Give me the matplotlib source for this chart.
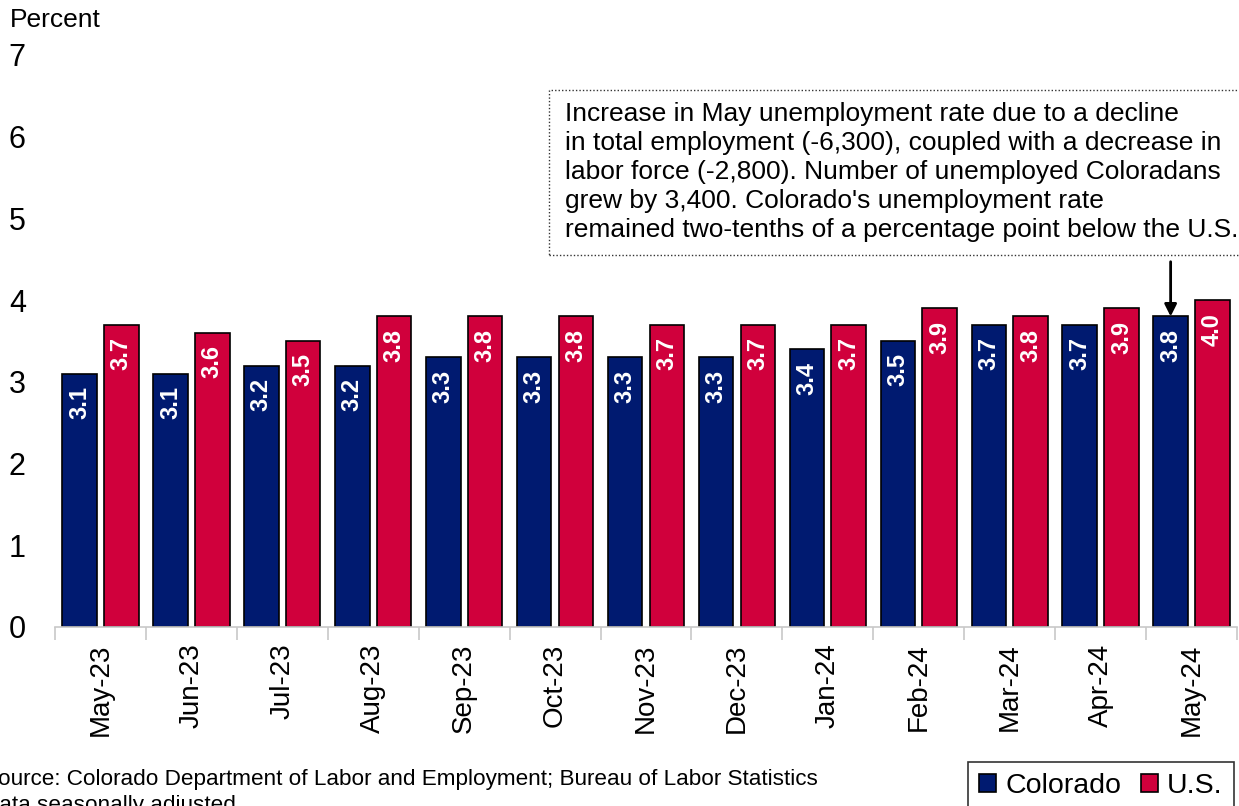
import numpy as np
import matplotlib.pyplot as plt
from matplotlib.patches import Rectangle

months = ['May-23', 'Jun-23', 'Jul-23', 'Aug-23', 'Sep-23', 'Oct-23', 'Nov-23',
          'Dec-23', 'Jan-24', 'Feb-24', 'Mar-24', 'Apr-24', 'May-24']
colorado = [3.1, 3.1, 3.2, 3.2, 3.3, 3.3, 3.3, 3.3, 3.4, 3.5, 3.7, 3.7, 3.8]
us = [3.7, 3.6, 3.5, 3.8, 3.8, 3.8, 3.7, 3.7, 3.7, 3.9, 3.8, 3.9, 4.0]

note = ("Increase in May unemployment rate due to a decline\n"
        "in total employment (-6,300), coupled with a decrease in\n"
        "labor force (-2,800). Number of unemployed Coloradans\n"
        "grew by 3,400. Colorado's unemployment rate\n"
        "remained two-tenths of a percentage point below the U.S.")

plt.rcParams['font.family'] = ['Liberation Sans', 'DejaVu Sans']

W, H = 1239, 806
fig = plt.figure(figsize=(W / 100, H / 100), dpi=100)
ax = fig.add_axes([55 / W, (H - 627) / H, (1237 - 55) / W, 572 / H])

blue = '#001a70'
red = '#d0003c'
x = np.arange(len(months))
off = 0.23
bw = 0.38
b1 = ax.bar(x - off, colorado, bw, color=blue, edgecolor='black', linewidth=1.2, label='Colorado')
b2 = ax.bar(x + off, us, bw, color=red, edgecolor='black', linewidth=1.2, label='U.S.')

# value labels inside the top of each bar
for xs, vals in ((x - off, colorado), (x + off, us)):
    for xi, v in zip(xs, vals):
        ax.annotate(f'{v:.1f}', (xi, v), xytext=(0, -9), textcoords='offset points',
                    rotation=90, ha='center', va='top', color='white',
                    fontsize=17, fontweight='bold')

ax.set_ylim(0, 7)
ax.set_xlim(-0.5, len(months) - 0.5)
ax.set_yticks(range(0, 8))
ax.tick_params(axis='y', length=0, labelsize=22, pad=21)
ax.set_xticks(x)
ax.set_xticklabels(months, rotation=90, fontsize=20)
ax.tick_params(axis='x', which='major', length=0, pad=12)
ax.set_xticks(np.arange(-0.5, len(months)), minor=True)
ax.tick_params(axis='x', which='minor', length=9, color='#c8c8c8', width=1.2)
for s in ('top', 'right', 'left'):
    ax.spines[s].set_visible(False)
ax.spines['bottom'].set_color('#c8c8c8')
ax.spines['bottom'].set_linewidth(1.2)

fig.text(10 / W, 1 - 20 / H, 'Percent', fontsize=19, va='center', ha='left')

# callout box with arrow to May-24 Colorado bar
fig.patches.append(Rectangle((549 / W, (H - 255) / H), 720 / W, 165 / H,
                             transform=fig.transFigure, fill=False,
                             edgecolor='#333333', linestyle=(0, (1, 1.5)), linewidth=1.0))
fig.text(565 / W, (H - 172) / H, note, fontsize=19, va='center', ha='left', linespacing=1.25)
ax.annotate('', xy=(12 - off, colorado[-1]), xytext=(12 - off, 4.47),
            arrowprops=dict(arrowstyle='-|>', color='black', lw=2, mutation_scale=18,
                            shrinkA=0, shrinkB=0))

fig.text(-17 / W, (H - 780) / H, 'Source: Colorado Department of Labor and Employment; Bureau of Labor Statistics',
         fontsize=16.2, va='center', ha='left')
fig.text(-17 / W, (H - 806) / H, 'Data seasonally adjusted', fontsize=16.2, va='center', ha='left')

leg = fig.legend(handles=[b1, b2], loc='upper left', bbox_to_anchor=(968 / W, (H - 762) / H),
                 ncol=2, fontsize=20.5, frameon=True, fancybox=False, handlelength=0.6,
                 handleheight=0.6, handletextpad=0.3, columnspacing=0.7, borderpad=0.4,
                 borderaxespad=0)
leg.get_frame().set_edgecolor('black')
leg.get_frame().set_linewidth(1.2)

fig.savefig('out.png', dpi=100)
